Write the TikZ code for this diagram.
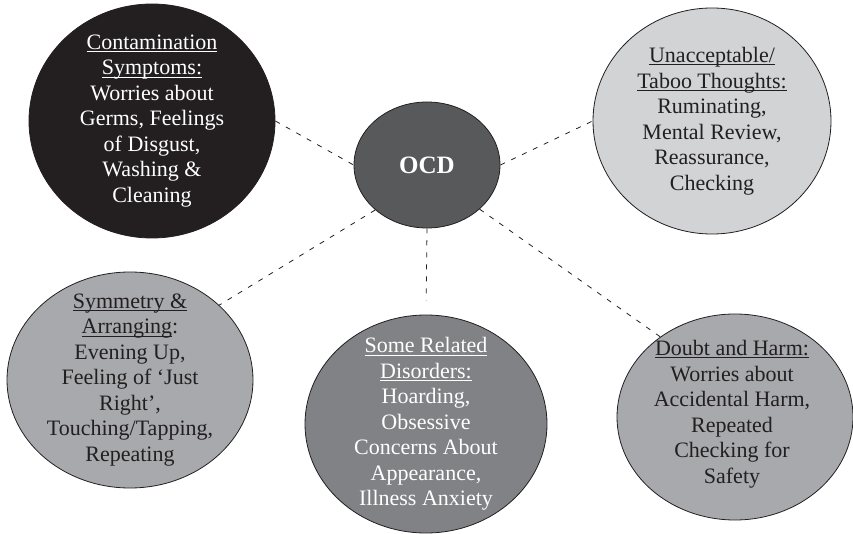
\documentclass[tikz,border=0pt]{standalone}
\usepackage{fontspec}
\setmainfont{Liberation Serif}
\usetikzlibrary{shapes.geometric}

\definecolor{inkdark}{HTML}{231F20}
\definecolor{ocdgrey}{HTML}{58595B}
\definecolor{palegrey}{HTML}{D1D3D4}
\definecolor{midgrey}{HTML}{A7A9AC}
\definecolor{slategrey}{HTML}{808285}

% underlined heading line: rule sits just below the baseline
\newcommand{\hd}[1]{\setbox0\hbox{#1}\rlap{\rule[-2.6pt]{\wd0}{0.75pt}}\box0}

\tikzset{
  bubble/.style={ellipse, draw=inkdark, line width=0.8pt, inner sep=0pt},
  bubbletext/.style={align=center, inner sep=0pt, font=\fontsize{22}{25.5}\selectfont},
  link/.style={draw=inkdark, line width=0.8pt, dash pattern=on 5pt off 7pt},
}

\begin{document}
\begin{tikzpicture}[x=1pt,y=-1pt]
\useasboundingbox (0,0) rectangle (853,534);

% outer category bubbles
\node[bubble, fill=inkdark, minimum width=246pt, minimum height=234pt] (cont) at (152,121) {};
\node[bubble, fill=palegrey, minimum width=238pt, minimum height=226pt] (unacc) at (712,121) {};
\node[bubble, fill=midgrey, minimum width=246pt, minimum height=216pt] (sym) at (130,380) {};
\node[bubble, fill=slategrey, minimum width=242pt, minimum height=218pt] (rel) at (426,424) {};
\node[bubble, fill=midgrey, minimum width=236pt, minimum height=206pt] (doubt) at (735,417) {};

% central bubble
\node[bubble, fill=ocdgrey, minimum width=146pt, minimum height=126pt] (ocd) at (427,165) {};
\node[text=white, font=\fontsize{25}{30}\selectfont\bfseries, inner sep=0pt] (ocdText) at (ocd.center) {OCD};

% dashed spokes
\draw[link] (cont.0) -- (ocd.180);
\draw[link] (ocd.0) -- (unacc.180);
\draw[link] (ocd.221) -- (sym.40);
\draw[link, shorten >=14pt] (ocd.south) -- (rel.north);
\draw[link] (ocd.320) -- (doubt.133);

% bubble texts
\node[bubbletext, text=white] (contText) at (cont.center)
  {\hd{Contamination}\\ \hd{Symptoms:}\\ Worries about\\ Germs, Feelings\\ of Disgust,\\ Washing \&\\ Cleaning};
\node[bubbletext, text=inkdark] (unaccText) at (unacc.center)
  {\hd{Unacceptable/}\\ \hd{Taboo Thoughts:}\\ Ruminating,\\ Mental Review,\\ Reassurance,\\ Checking};
\node[bubbletext, text=inkdark] (symText) at (sym.center)
  {\hd{Symmetry \&}\\ \hd{Arranging}:\\ Evening Up,\\ Feeling of ‘Just\\ Right’,\\ Touching/Tapping,\\ Repeating};
\node[bubbletext, text=white] (relText) at (rel.center)
  {\hd{Some Related}\\ \hd{Disorders:}\\ Hoarding,\\ Obsessive\\ Concerns About\\ Appearance,\\ Illness Anxiety};
\node[bubbletext, text=inkdark, xshift=-3pt, yshift=3pt] (doubtText) at (doubt.center)
  {\hd{Doubt and Harm:}\\ Worries about\\ Accidental Harm,\\ Repeated\\ Checking for\\ Safety};
\end{tikzpicture}
\end{document}
